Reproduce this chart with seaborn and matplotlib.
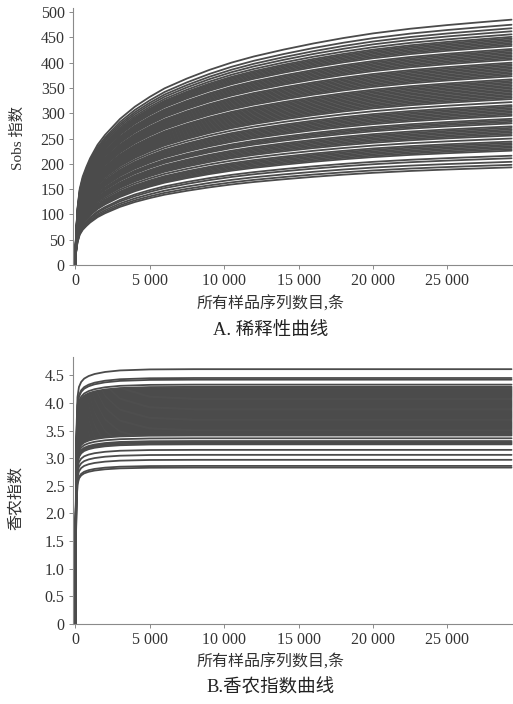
import numpy as np
import pandas as pd
import matplotlib
matplotlib.use("Agg")
import matplotlib.pyplot as plt
import seaborn as sns

SOBS_END = [485, 475, 468, 462, 456,
            451, 448, 445, 442, 439, 436, 433,
            427, 424, 421, 418, 415, 412, 409, 406,
            400, 397, 394, 391, 388, 385, 382, 379, 376, 373,
            367, 364, 361, 358, 355, 352, 349, 346, 343, 340, 337, 334, 331, 328,
            322,
            316, 313, 310, 307, 304, 301, 298, 295,
            289, 286, 283, 280,
            274, 271, 268, 265, 262, 259, 256,
            250,
            244, 241, 238, 235, 232, 229, 226,
            216, 211, 204, 198, 193]
SHANNON_END = [4.61, 4.45, 4.42, 4.33,
               4.29, 4.27, 4.25, 4.23, 4.21, 4.19, 4.17, 4.15, 4.13, 4.11,
               4.09, 4.07, 4.05, 4.03, 4.01, 3.99, 3.97, 3.95, 3.93, 3.91,
               3.89, 3.87, 3.85, 3.83, 3.81, 3.79, 3.77, 3.75, 3.73, 3.71,
               3.69, 3.67, 3.65, 3.63, 3.61, 3.59, 3.57, 3.55, 3.53, 3.51,
               3.49, 3.47, 3.45, 3.43, 3.41,
               3.36, 3.31, 3.29, 3.27, 3.25,
               3.15, 3.06, 2.97, 2.86, 2.83]

# shape of the curves (fraction of end value)
SOBS_X = [0, 50, 150, 300, 500, 750, 1000, 1500, 2000, 3000, 4000, 5000, 6000,
          7500, 9000, 10500, 12000, 14000, 16000, 18000, 20000, 22500, 25000,
          27500, 29300]
SOBS_FRAC = [0, 0.12, 0.23, 0.31, 0.36, 0.40, 0.435, 0.49, 0.53, 0.595, 0.645,
             0.685, 0.72, 0.76, 0.795, 0.825, 0.85, 0.878, 0.903, 0.925, 0.944,
             0.963, 0.978, 0.991, 1.0]
SHANNON_X = [0, 30, 80, 150, 250, 400, 600, 900, 1300, 2000, 3000, 5000, 8000, 29300]
SHANNON_FRAC = [0, 0.40, 0.75, 0.89, 0.93, 0.95, 0.963, 0.973, 0.981, 0.989,
                0.995, 0.999, 1.0, 1.0]

X_TICKS = [0, 5000, 10000, 15000, 20000, 25000]
X_LABELS = ["0", "5 000", "10 000", "15 000", "20 000", "25 000"]
SOBS_TICKS = [0, 50, 100, 150, 200, 250, 300, 350, 400, 450, 500]
SHANNON_TICKS = [0, 0.5, 1.0, 1.5, 2.0, 2.5, 3.0, 3.5, 4.0, 4.5]
SHANNON_LABELS = ["0", "0.5", "1.0", "1.5", "2.0", "2.5", "3.0", "3.5", "4.0", "4.5"]


def to_long(ends, xs, fracs):
    rows = []
    for i, e in enumerate(ends):
        for x, f in zip(xs, fracs):
            rows.append({"sample": i, "reads": x, "value": e * f})
    return pd.DataFrame(rows)


sns.set_style("ticks")
plt.rcParams["font.family"] = ["Liberation Serif", "Noto Sans CJK SC"]
LINE = "#4b4b4b"
SPINE = "#8a8a8a"

fig = plt.figure(figsize=(5.13, 7.04), dpi=100)
ax1 = fig.add_axes([0.1423, 0.6236, 0.8577, 0.365])
ax2 = fig.add_axes([0.1423, 0.1136, 0.8577, 0.3793])

df1 = to_long(SOBS_END, SOBS_X, SOBS_FRAC)
df2 = to_long(SHANNON_END, SHANNON_X, SHANNON_FRAC)

sns.lineplot(data=df1, x="reads", y="value", units="sample", estimator=None,
             color=LINE, lw=1.3, ax=ax1)
sns.lineplot(data=df2, x="reads", y="value", units="sample", estimator=None,
             color=LINE, lw=1.3, ax=ax2)

ax1.set_ylim(0, 508)
ax1.set_yticks(SOBS_TICKS)
ax2.set_ylim(0, 4.83)
ax2.set_yticks(SHANNON_TICKS)
ax2.set_yticklabels(SHANNON_LABELS)

for ax in (ax1, ax2):
    ax.set_xlim(-150, 29400)
    ax.set_xticks(X_TICKS)
    ax.set_xticklabels(X_LABELS)
    ax.set_xlabel("")
    ax.set_ylabel("")
    sns.despine(ax=ax)
    for s in ("left", "bottom"):
        ax.spines[s].set_color(SPINE)
        ax.spines[s].set_linewidth(0.8)
    ax.tick_params(length=3, width=0.7, color=SPINE, labelcolor="#333333",
                   labelsize=11.5, pad=3)

fig.text(0.528, 1 - 305 / 704, "所有样品序列数目,条", ha="center", va="center",
         fontsize=11.5, color="#333333")
fig.text(0.528, 1 - 331 / 704, "A. 稀释性曲线", ha="center", va="center",
         fontsize=13.3, color="#222222")
fig.text(0.528, 1 - 663 / 704, "所有样品序列数目,条", ha="center", va="center",
         fontsize=11.5, color="#333333")
fig.text(0.528, 1 - 688 / 704, "B.香农指数曲线", ha="center", va="center",
         fontsize=13.3, color="#222222")
fig.text(18 / 513, 1 - 138 / 704, "Sobs 指数", ha="center", va="center",
         rotation=90, fontsize=11, color="#333333")
fig.text(16 / 513, 1 - 498 / 704, "香农指数", ha="center", va="center",
         rotation=90, fontsize=11.5, color="#333333")

fig.savefig("out.png", dpi=100, facecolor="white")
